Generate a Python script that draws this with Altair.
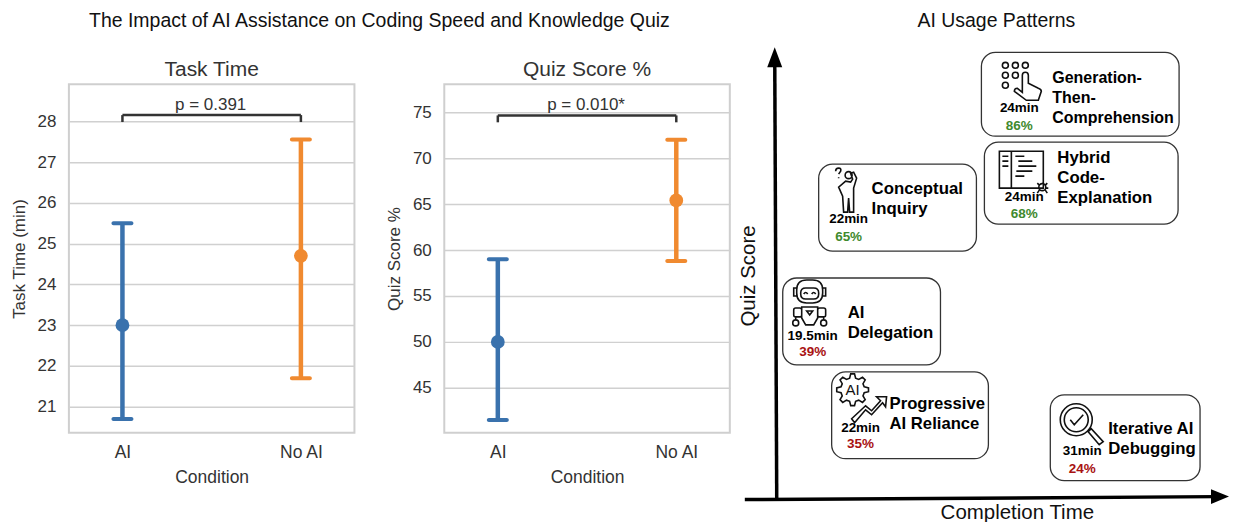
import math
import altair as alt
import pandas as pd

FONT = "Liberation Sans"
conditions = ["AI", "No AI"]
colors = ["#3a72ad", "#f08a30"]
time_mean = [23.0, 24.7]
time_low = [20.7, 21.7]
time_high = [25.5, 27.55]
quiz_mean = [50.0, 65.4]
quiz_low = [41.5, 58.8]
quiz_high = [59.0, 72.0]

names = [
    ["Generation-", "Then-", "Comprehension"],
    ["Hybrid", "Code-", "Explanation"],
    ["Conceptual", "Inquiry"],
    ["AI", "Delegation"],
    ["Progressive", "AI Reliance"],
    ["Iterative AI", "Debugging"],
]
minutes = ["24min", "24min", "22min", "19.5min", "22min", "31min"]
scores = ["86%", "68%", "65%", "39%", "35%", "24%"]
score_colors = ["#3f8a2e", "#3f8a2e", "#3f8a2e", "#a81212", "#a81212", "#a81212"]

# Diagram layout: the quadrant has no numeric scale, its axes run in picture units.
box_x0 = [982, 985, 819, 783, 832, 1051]
box_x1 = [1180, 1179, 977, 941, 989, 1201]
box_y0 = [52, 142, 164, 278, 372, 395]
box_y1 = [136, 224, 251, 365, 459, 481]
label_x = [1053, 1058, 872, 848, 890, 1109]
label_y = [78, 158, 189, 313, 404, 429]
label_fs = [16, 16.8, 16.8, 16.8, 16.7, 16.8]
stat_x = [1020, 1025, 849, 813, 861, 1083]
min_y = [108, 197, 219, 336, 428, 451]
pct_y = [126, 214, 237, 352, 444, 469]


def circ(cx, cy, r):
    return f"M{cx+r},{cy}A{r},{r} 0 1 1 {cx-r},{cy}A{r},{r} 0 1 1 {cx+r},{cy}Z"


def rrect(x0, y0, x1, y1, r):
    return (f"M{x0+r},{y0}L{x1-r},{y0}Q{x1},{y0} {x1},{y0+r}L{x1},{y1-r}Q{x1},{y1} {x1-r},{y1}"
            f"L{x0+r},{y1}Q{x0},{y1} {x0},{y1-r}L{x0},{y0+r}Q{x0},{y0} {x0+r},{y0}Z")


def gear(r0, r1, teeth):
    pts = []
    for i in range(teeth):
        a = 2 * math.pi * i / teeth
        w = math.pi / teeth * 0.5
        for rad, ang in ((r0, a - w * 1.3), (r1, a - w * 0.6), (r1, a + w * 0.6), (r0, a + w * 1.3)):
            pts.append(f"{rad*math.cos(ang):.1f},{rad*math.sin(ang):.1f}")
    return "M" + "L".join(pts) + "Z"


icon_hand = ("".join(circ(x, y, 3) for x, y in [(-14, -15), (-4, -15), (6, -15), (-14, -5), (-4, -5), (-14, 5)])
             + "M3,-5Q3,-8 6,-8Q9,-8 9,-5L9,3L19,8Q22,9 22,11L19,20L7,20L-5,11Q-5,8 -2,8L3,12Z")
icon_doc = ("M-20,-19L24,-19L24,18L-20,18ZM-8,-19L-8,18"
            "M-17,-14L-11,-14M-17,-9L-11,-9M-17,-4L-11,-4"
            "M-4,-14L5,-14M-1,-9L13,-9M-1,-4L17,-4M-3,1L13,1M-4,6L5,6"
            + circ(23, 17, 3.5) + "M18,13L20,15M28,13L26,15M17,18L19,18M29,18L27,18M18,23L20,20M28,23L26,20")
icon_person = (circ(0, -15, 3.5)
               + "M-3,-9L-10,-3L-6,6L-5,22L-1,22L0,8L1,22L5,22L5,-2L8,-12L5,-18L2,-17L4,-11L2,-8Z"
               + "M-13,-19Q-13,-22 -10,-22Q-7,-22 -8,-19L-10,-16M-10,-13L-10,-12")
icon_robot = (rrect(-13, -25, 13, -2, 10) + rrect(-9, -17, 9, -6, 5)
              + "M-6,-11Q-4,-14 -2,-11M2,-11Q4,-14 6,-11"
              + "M-13,-17L-16,-17L-16,-9L-13,-9M13,-17L16,-17L16,-9L13,-9"
              + "M-8,2L8,2L8,13L4,20L-4,20L-8,13ZM-3,6L3,6L0,10Z"
              + rrect(-16, 3, -8, 12, 2) + rrect(8, 3, 16, 12, 2)
              + "M-14,12L-14,15M14,12L14,15"
              + circ(-14, 18, 3) + circ(14, 18, 3))
icon_gear = (gear(12, 16, 8)
             + "M-1,29L13,16L19,21L28,11L24,7L34,7L33,17L30,13L19,25L13,20L2,33Z")
icon_lens = (circ(0, 0, 16) + circ(0, 0, 12) + "M-6,0L-2,5L7,-5"
             + "M12,12L15,9L27,22L23,25Z")
icons = [icon_hand, icon_doc, icon_person, icon_robot, icon_gear, icon_lens]
icon_x = [1020, 1020, 849, 810, 853, 1077]
icon_y = [80, 170, 190, 305, 390, 420]


def panel(title, ytitle, mean, low, high, domain, ticks, p_text, br_low, br_high):
    df = pd.DataFrame({"cond": conditions, "mean": mean, "low": low, "high": high})
    x = alt.X("cond:N", title="Condition",
              scale=alt.Scale(type="point", domain=conditions, padding=0.3),
              axis=alt.Axis(grid=False, ticks=False, domain=False, labelAngle=0, labelPadding=11,
                            labelFontSize=17.5, titleFontSize=17.5, titleFontWeight="normal",
                            labelColor="#333333", titleColor="#333333", titlePadding=7,
                            labelFont=FONT, titleFont=FONT))
    y = alt.Y("mean:Q", title=ytitle,
              scale=alt.Scale(domain=domain, nice=False, zero=False),
              axis=alt.Axis(values=ticks, grid=True, gridColor="#d0d0d0", gridWidth=1.5, ticks=False,
                            domain=False, labelFontSize=17, titleFontSize=17, titleFontWeight="normal",
                            labelColor="#333333", titleColor="#333333", labelPadding=13, titlePadding=9,
                            labelFont=FONT, titleFont=FONT))
    color = alt.Color("cond:N", scale=alt.Scale(domain=conditions, range=colors), legend=None)
    rules = alt.Chart(df).mark_rule(strokeWidth=4.5).encode(
        x=x, y=alt.Y("low:Q", scale=alt.Scale(domain=domain, nice=False, zero=False)), y2="high:Q", color=color)
    cap_low = alt.Chart(df).mark_tick(orient="horizontal", size=22, thickness=4, cornerRadius=2, opacity=1).encode(
        x="cond:N", y=alt.Y("low:Q"), color=color)
    cap_high = alt.Chart(df).mark_tick(orient="horizontal", size=22, thickness=4, cornerRadius=2, opacity=1).encode(
        x="cond:N", y=alt.Y("high:Q"), color=color)
    points = alt.Chart(df).mark_circle(size=190, opacity=1).encode(x="cond:N", y=y, color=color)
    br = pd.DataFrame({"a": [conditions[0]], "b": [conditions[1]], "lo": [br_low], "hi": [br_high]})
    bar = alt.Chart(br).mark_rule(color="#333333", strokeWidth=2.5).encode(x="a:N", x2="b:N", y="hi:Q")
    left = alt.Chart(br).mark_rule(color="#333333", strokeWidth=2.5).encode(x="a:N", y="lo:Q", y2="hi:Q")
    right = alt.Chart(br).mark_rule(color="#333333", strokeWidth=2.5).encode(x="b:N", y="lo:Q", y2="hi:Q")
    txt = alt.Chart(br.assign(t=[p_text])).mark_text(
        font=FONT, fontSize=17, color="#333333", baseline="alphabetic", dy=-5).encode(
        x=alt.value(142), y="hi:Q", text="t:N")
    return alt.layer(rules, cap_low, cap_high, points, bar, left, right, txt).properties(
        width=286, height=349,
        title=alt.TitleParams(title, font=FONT, fontSize=21, fontWeight="normal", color="#333333", offset=4),
        view=alt.ViewConfig(stroke="#cfcfcf", strokeWidth=2))


p1 = panel("Task Time", "Task Time (min)", time_mean, time_low, time_high, [20.364, 28.905],
           list(range(21, 29)), "p = 0.391", 27.98, 28.15)
p2 = panel("Quiz Score %", "Quiz Score %", quiz_mean, quiz_low, quiz_high, [40.11, 78.04],
           list(range(45, 80, 5)), "p = 0.010*", 73.9, 74.65)

x_s = alt.Scale(domain=[820, 1230], nice=False, zero=False)
y_s = alt.Scale(domain=[84, 433], nice=False, zero=False, reverse=True)
X = lambda f: alt.X(f, scale=x_s, axis=None)
Y = lambda f: alt.Y(f, scale=y_s, axis=None)

boxes = pd.DataFrame({"x0": box_x0, "x1": box_x1, "y0": box_y0, "y1": box_y1})
box_layer = alt.Chart(boxes).mark_rect(fill="white", stroke="#333333", strokeWidth=1.3, cornerRadius=14, clip=False).encode(
    x=X("x0:Q"), x2="x1:Q", y=Y("y0:Q"), y2="y1:Q")

lab_rows = []
for i, lines in enumerate(names):
    for j, t in enumerate(lines):
        lab_rows.append({"x": label_x[i], "y": label_y[i] + 20 * j, "t": t, "fs": label_fs[i]})
lab_layer = alt.Chart(pd.DataFrame(lab_rows)).mark_text(
    font=FONT, fontWeight="bold", color="#000000", align="left", baseline="middle").encode(
    x=X("x:Q"), y=Y("y:Q"), text="t:N", size=alt.Size("fs:Q", scale=None, legend=None))

stats = pd.DataFrame({"x": stat_x, "ym": min_y, "yp": pct_y, "m": minutes, "p": scores, "c": score_colors})
min_layer = alt.Chart(stats).mark_text(font=FONT, fontSize=13.5, fontWeight="bold", color="#000000", baseline="middle").encode(
    x=X("x:Q"), y=Y("ym:Q"), text="m:N")
pct_layer = alt.Chart(stats).mark_text(font=FONT, fontSize=13.5, fontWeight="bold", baseline="middle").encode(
    x=X("x:Q"), y=Y("yp:Q"), text="p:N", color=alt.Color("c:N", scale=None))

icon_df = pd.DataFrame({"x": icon_x, "y": icon_y, "s": icons})
icon_layer = alt.Chart(icon_df).mark_point(filled=False, size=4, stroke="#111111", strokeWidth=1.6, opacity=1).encode(
    x=X("x:Q"), y=Y("y:Q"), shape=alt.Shape("s:N", scale=None, legend=None))
ai_layer = alt.Chart(pd.DataFrame({"x": [853], "y": [390], "t": ["AI"]})).mark_text(
    font=FONT, fontSize=15, color="#111111", baseline="middle").encode(x=X("x:Q"), y=Y("y:Q"), text="t:N")

axes = pd.DataFrame({"x": [777, 745], "x2": [775, 1218], "y": [500, 500], "y2": [60, 497]})
axis_layer = alt.Chart(axes).mark_rule(color="black", strokeWidth=3.5).encode(
    x=X("x:Q"), x2="x2:Q", y=Y("y:Q"), y2="y2:Q")
tips = pd.DataFrame({"x": [775, 1221], "y": [57, 497],
                     "s": ["M0,-10L7.5,10L-7.5,10Z", "M-9,-7.5L9,0L-9,7.5Z"]})
tip_layer = alt.Chart(tips).mark_point(filled=True, size=4, color="black", opacity=1).encode(
    x=X("x:Q"), y=Y("y:Q"), shape=alt.Shape("s:N", scale=None, legend=None))

texts = pd.DataFrame({"x": [379, 997, 1018], "y": [21, 21, 513],
                      "t": ["The Impact of AI Assistance on Coding Speed and Knowledge Quiz",
                            "AI Usage Patterns", "Completion Time"],
                      "fs": [19.5, 19.5, 20.5]})
text_layer = alt.Chart(texts).mark_text(font=FONT, color="#111111", baseline="middle").encode(
    x=X("x:Q"), y=Y("y:Q"), text="t:N", size=alt.Size("fs:Q", scale=None, legend=None))
ylab = alt.Chart(pd.DataFrame({"x": [749], "y": [276], "t": ["Quiz Score"]})).mark_text(
    font=FONT, fontSize=20.5, color="#111111", baseline="middle", angle=270).encode(
    x=X("x:Q"), y=Y("y:Q"), text="t:N")

p3 = alt.layer(axis_layer, tip_layer, box_layer, lab_layer, icon_layer, ai_layer, min_layer, pct_layer,
               text_layer, ylab).properties(width=410, height=349, view=alt.ViewConfig(stroke="transparent"))

chart = alt.hconcat(p1, p2, p3, spacing=90, bounds="flush").resolve_scale(
    color="independent", shape="independent"
).configure(background="white").properties(
    padding={"left": 1, "top": 2, "right": 0, "bottom": 0})

chart.save("out.html", embed_options={"renderer": "svg", "actions": False})
